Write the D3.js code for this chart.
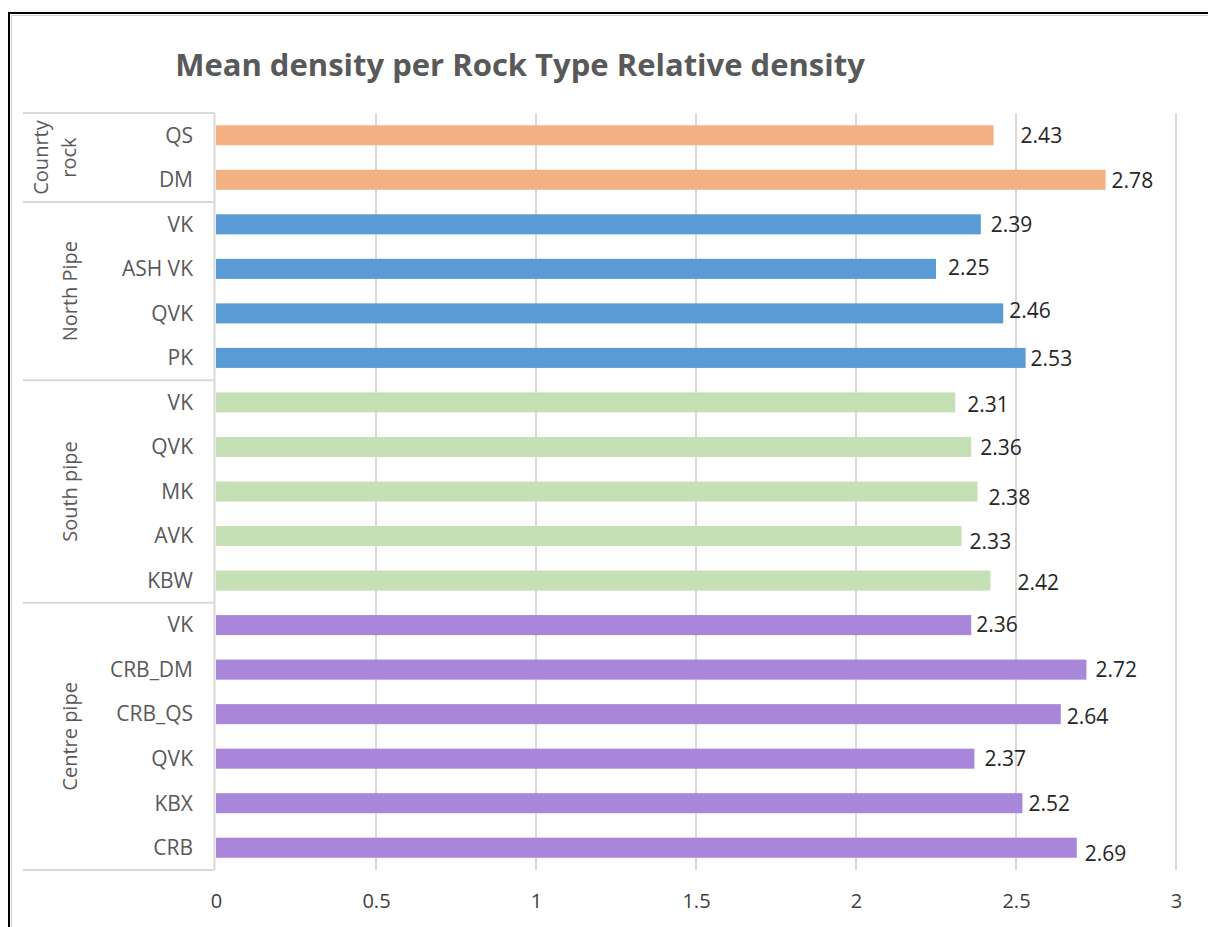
<!DOCTYPE html>
<html>
<head>
<meta charset="utf-8">
<script src="https://cdn.jsdelivr.net/npm/d3@7"></script>
<style>
  html, body { margin: 0; padding: 0; background: #ffffff; }
  svg { display: block; }
  text { font-family: "Open Sans", "Noto Sans", sans-serif; }
</style>
</head>
<body>
<svg id="chart" width="1208" height="927"></svg>
<script>
// Rock types, top to bottom, and the pipe each belongs to
const rockTypes = ["QS", "DM", "VK", "ASH VK", "QVK", "PK", "VK", "QVK", "MK", "AVK", "KBW",
                   "VK", "CRB_DM", "CRB_QS", "QVK", "KBX", "CRB"];
const groupOfRow = [0, 0, 1, 1, 1, 1, 2, 2, 2, 2, 2, 3, 3, 3, 3, 3, 3];
const groupNames = [["Counrty", "rock"], ["North Pipe"], ["South pipe"], ["Centre pipe"]];
// Mean relative density per rock type
const density = [2.43, 2.78, 2.39, 2.25, 2.46, 2.53, 2.31, 2.36, 2.38, 2.33, 2.42,
                 2.36, 2.72, 2.64, 2.37, 2.52, 2.69];
const xTicks = [0, 0.5, 1, 1.5, 2, 2.5, 3];
const xTickLabels = ["0", "0.5", "1", "1.5", "2", "2.5", "3"];
const groupColors = ["#F4B183", "#5B9BD5", "#C5E0B4", "#A886DA"];

// Hand-placed data label offsets [dx, dy] from the bar end
const labelOffset = [[27, 0], [6, 1], [10, 0], [12, -1], [6, -3], [5, 1],
                     [12, 2], [9, 1], [11, 6], [8, 6], [27, 2],
                     [5, 0], [9, 0], [6, 3], [10, 0], [6, 0], [8, 6]];

const svg = d3.select("#chart");

// Outer frame
svg.append("rect")
  .attr("x", 9).attr("y", 13).attr("width", 1300).attr("height", 1000)
  .attr("fill", "none").attr("stroke", "#000").attr("stroke-width", 2);
svg.append("path")
  .attr("d", "M11.5,927 V15.5 H1208")
  .attr("fill", "none").attr("stroke", "#d0d0d0").attr("stroke-width", 1);

const plot = { left: 216, right: 1176, top: 113, bottom: 870 };
const gridColor = "#D9D9D9";

const x = d3.scaleLinear().domain([0, 3]).range([plot.left, plot.right]);
const y = d3.scaleBand().domain(d3.range(rockTypes.length))
  .range([plot.top, plot.bottom]).paddingInner(0.55).paddingOuter(0.275);

// Title
svg.append("text")
  .attr("x", 520).attr("y", 76)
  .attr("text-anchor", "middle")
  .attr("font-size", 31).attr("font-weight", 700)
  .attr("fill", "#595959")
  .text("Mean density per Rock Type Relative density");

// Vertical gridlines
svg.append("g").selectAll("line")
  .data(xTicks.filter(t => t > 0))
  .join("line")
  .attr("x1", d => x(d)).attr("x2", d => x(d))
  .attr("y1", plot.top).attr("y2", plot.bottom)
  .attr("stroke", gridColor).attr("stroke-width", 2);

// X axis tick labels
const xAxis = d3.axisBottom(x).tickValues(xTicks)
  .tickFormat((d, i) => xTickLabels[i]).tickSize(0).tickPadding(0);
const xg = svg.append("g").attr("transform", `translate(0, ${plot.bottom + 24})`).call(xAxis);
xg.select(".domain").remove();
xg.selectAll("text")
  .attr("font-family", "Open Sans, sans-serif")
  .attr("font-size", 20).attr("fill", "#404040");

// Category axis: line and group separators
const step = y.step();
const gap = step * y.paddingInner() / 2;
const groupStarts = [];
groupOfRow.forEach((g, i) => { if (i === 0 || groupOfRow[i - 1] !== g) groupStarts.push(i); });
const boundaries = groupStarts.map(i => y(i) - gap).concat([plot.bottom]);

const axisG = svg.append("g");
axisG.append("line")
  .attr("x1", plot.left - 1.5).attr("x2", plot.left - 1.5)
  .attr("y1", plot.top).attr("y2", plot.bottom)
  .attr("stroke", gridColor).attr("stroke-width", 2);
axisG.selectAll("line.sep")
  .data(boundaries)
  .join("line").attr("class", "sep")
  .attr("x1", 23).attr("x2", plot.left - 1.5)
  .attr("y1", d => d).attr("y2", d => d)
  .attr("stroke", gridColor).attr("stroke-width", 2);

// Rock type labels
svg.append("g").selectAll("text")
  .data(rockTypes)
  .join("text")
  .attr("x", 193)
  .attr("y", (d, i) => y(i) + y.bandwidth() / 2)
  .attr("dy", "0.35em")
  .attr("text-anchor", "end")
  .attr("font-size", 21).attr("fill", "#595959")
  .text(d => d);

// Group labels, rotated
groupNames.forEach((lines, gi) => {
  const cy = (boundaries[gi] + boundaries[gi + 1]) / 2;
  const baseX = lines.length === 1 ? [77] : [48, 76];
  lines.forEach((ln, li) => {
    svg.append("text")
      .attr("transform", `translate(${baseX[li]}, ${cy}) rotate(-90)`)
      .attr("text-anchor", "middle")
      .attr("font-size", 20).attr("fill", "#595959")
      .text(ln);
  });
});

// Bars
svg.append("g").selectAll("rect")
  .data(density)
  .join("rect")
  .attr("x", x(0))
  .attr("y", (d, i) => y(i))
  .attr("width", d => x(d) - x(0))
  .attr("height", y.bandwidth())
  .attr("fill", (d, i) => groupColors[groupOfRow[i]]);

// Data labels
svg.append("g").selectAll("text")
  .data(density)
  .join("text")
  .attr("x", (d, i) => x(d) + labelOffset[i][0])
  .attr("y", (d, i) => y(i) + y.bandwidth() / 2 + labelOffset[i][1])
  .attr("dy", "0.35em")
  .attr("font-size", 21).attr("fill", "#262626")
  .text(d => d.toFixed(2));
</script>
</body>
</html>
